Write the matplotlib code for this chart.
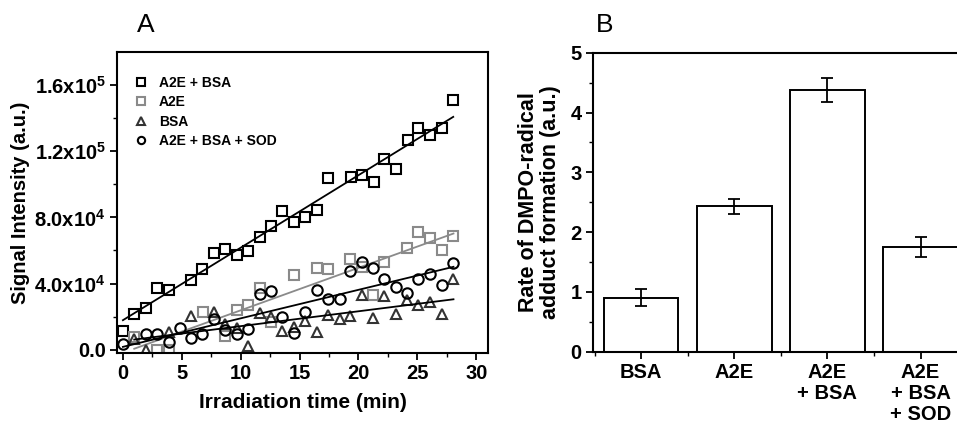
import numpy as np
import matplotlib
matplotlib.use("Agg")
import matplotlib.pyplot as plt
from matplotlib.ticker import MultipleLocator, FuncFormatter, FixedLocator

plt.rcParams['font.family'] = ['Liberation Sans', 'DejaVu Sans']
plt.rcParams['font.weight'] = 'bold'
plt.rcParams['mathtext.fontset'] = 'custom'
plt.rcParams['mathtext.rm'] = 'Liberation Sans:bold'
plt.rcParams['mathtext.it'] = 'Liberation Sans:bold'
plt.rcParams['mathtext.bf'] = 'Liberation Sans:bold'

# panel A data (time in min, intensity in a.u.)
t_a2e_bsa = [0, 0.96, 1.95, 2.9, 3.9, 5.8, 6.75, 7.7, 8.7, 9.66, 10.6, 11.6, 12.6, 13.5,
             14.5, 15.5, 16.5, 17.4, 19.35, 20.3, 21.3, 22.2, 23.2, 24.2, 25.1, 26.1, 27.06, 28.05]
y_a2e_bsa = [11.3, 21.4, 25.0, 37.3, 35.9, 42.4, 49.0, 58.5, 60.8, 57.0, 59.8, 67.9, 74.9, 83.8,
             77.3, 80.4, 84.2, 103.6, 104.6, 105.5, 101.2, 115.2, 109.1, 126.7, 134.1, 129.7, 134.1, 150.7]

t_a2e = [0.96, 2.9, 3.9, 6.8, 8.7, 9.66, 10.6, 11.6, 12.6, 14.5, 16.5, 17.4, 19.3, 20.3,
         21.2, 22.2, 24.15, 25.1, 26.1, 27.1, 28.07]
y_a2e = [7.5, 0.0, 0.0, 22.8, 8.5, 24.2, 27.0, 37.1, 16.5, 45.2, 49.1, 48.7, 55.0, 50.0,
         33.0, 53.2, 61.6, 71.3, 67.5, 60.5, 68.7]

t_bsa = [0.96, 1.95, 3.9, 5.8, 7.7, 8.7, 9.66, 10.6, 11.6, 12.6, 13.5, 14.5, 15.5, 16.5,
         17.4, 18.4, 19.3, 20.3, 21.2, 22.2, 23.2, 24.15, 25.1, 26.1, 27.1, 28.07]
y_bsa = [6.7, -0.3, 10.5, 20.4, 22.8, 15.3, 13.0, 2.5, 22.0, 19.8, 11.6, 13.8, 17.3, 10.6,
         20.8, 18.4, 20.4, 32.9, 19.0, 32.5, 21.8, 29.9, 26.8, 28.8, 21.4, 42.6]

t_sod = [0, 1.95, 2.9, 3.9, 4.86, 5.8, 6.75, 7.7, 8.7, 9.66, 10.6, 11.6, 12.6, 13.5, 14.5,
         15.5, 16.5, 17.4, 18.4, 19.3, 20.3, 21.2, 22.2, 23.2, 24.15, 25.1, 26.1, 27.1, 28.07]
y_sod = [3.2, 9.5, 9.7, 4.4, 13.0, 6.8, 9.5, 18.4, 11.8, 9.3, 12.3, 33.9, 35.5, 19.8, 10.3,
         23.0, 36.1, 30.9, 30.9, 47.6, 53.3, 49.3, 42.6, 37.9, 34.5, 42.6, 45.6, 39.0, 52.3]

# panel B data
groups = ['BSA', 'A2E', 'A2E\n+ BSA', 'A2E\n+ BSA\n+ SOD']
rates = [0.90, 2.43, 4.37, 1.75]
rate_err = [0.14, 0.12, 0.20, 0.17]

fig = plt.figure(figsize=(9.57, 4.23), dpi=100)
axA = fig.add_axes([0.1223, 0.1655, 0.3876, 0.7115])
axB = fig.add_axes([0.6193, 0.1686, 0.3932, 0.7068])

series = [
    ('A2E + BSA', t_a2e_bsa, y_a2e_bsa, 's', 'black', 'black'),
    ('A2E', t_a2e, y_a2e, 's', '#8a8a8a', '#8a8a8a'),
    ('BSA', t_bsa, y_bsa, '^', '#333333', 'black'),
    ('A2E + BSA + SOD', t_sod, y_sod, 'o', 'black', 'black'),
]
for name, t, y, m, c, lc in series:
    t = np.array(t)
    y = np.array(y) * 1000
    axA.plot(t, y, m, mfc='none', mec=c, mew=1.5, ms=7.5, label=name)
    k, b = np.polyfit(t, y, 1)
    xx = np.array([t.min(), t.max()])
    axA.plot(xx, k * xx + b, '-', color=lc, lw=1.3)

axA.set_xlim(-0.5, 31)
axA.set_ylim(-2000, 180000)
axA.xaxis.set_major_locator(MultipleLocator(5))
axA.xaxis.set_minor_locator(MultipleLocator(2.5))
axA.yaxis.set_major_locator(FixedLocator([0, 40000, 80000, 120000, 160000]))
axA.yaxis.set_minor_locator(FixedLocator([20000, 60000, 100000, 140000]))


def sci(v, pos):
    if v == 0:
        return '0.0'
    e = int(np.floor(np.log10(v)))
    return f'{v / 10**e:.1f}x10$^{{{e}}}$'


axA.yaxis.set_major_formatter(FuncFormatter(sci))
axA.set_xlabel('Irradiation time (min)', fontsize=15, fontweight='bold', labelpad=7)
axA.set_ylabel('Signal Intensity (a.u.)', fontsize=14.5, fontweight='bold', labelpad=3)

h, l = axA.get_legend_handles_labels()
axA.legend(h, l, loc='upper left', frameon=False, fontsize=10, markerscale=0.7,
           handlelength=1.0, handletextpad=0.8, labelspacing=0.4,
           bbox_to_anchor=(0.03, 0.94), borderaxespad=0)

axB.bar(range(len(groups)), rates, width=0.8, color='white', edgecolor='black', lw=1.4,
        yerr=rate_err, capsize=4, error_kw=dict(elinewidth=1.3, capthick=1.3, ecolor='black'))
axB.set_xlim(-0.52, 3.52)
axB.set_ylim(0, 5)
axB.set_xticks(range(len(groups)))
axB.set_xticklabels(groups, linespacing=1.15)
axB.xaxis.set_minor_locator(FixedLocator([-0.5, 0.5, 1.5, 2.5, 3.5]))
axB.yaxis.set_major_locator(MultipleLocator(1))
axB.yaxis.set_minor_locator(MultipleLocator(0.5))
axB.set_ylabel('Rate of DMPO-radical\nadduct formation (a.u.)', fontsize=15.5,
               fontweight='bold', labelpad=7, linespacing=1.05)

for ax in (axA, axB):
    for s in ax.spines.values():
        s.set_linewidth(1.5)
    ax.tick_params(which='major', direction='out', length=5, width=1.3, labelsize=14.5, pad=3)
    ax.tick_params(which='minor', direction='out', length=3, width=1.0)
    for lab in ax.get_xticklabels() + ax.get_yticklabels():
        lab.set_fontweight('bold')

fig.text(0.152, 0.94, 'A', fontsize=19, fontweight='normal', ha='center', va='center')
fig.text(0.632, 0.94, 'B', fontsize=19, fontweight='normal', ha='center', va='center')

fig.savefig('out.png', dpi=100)
